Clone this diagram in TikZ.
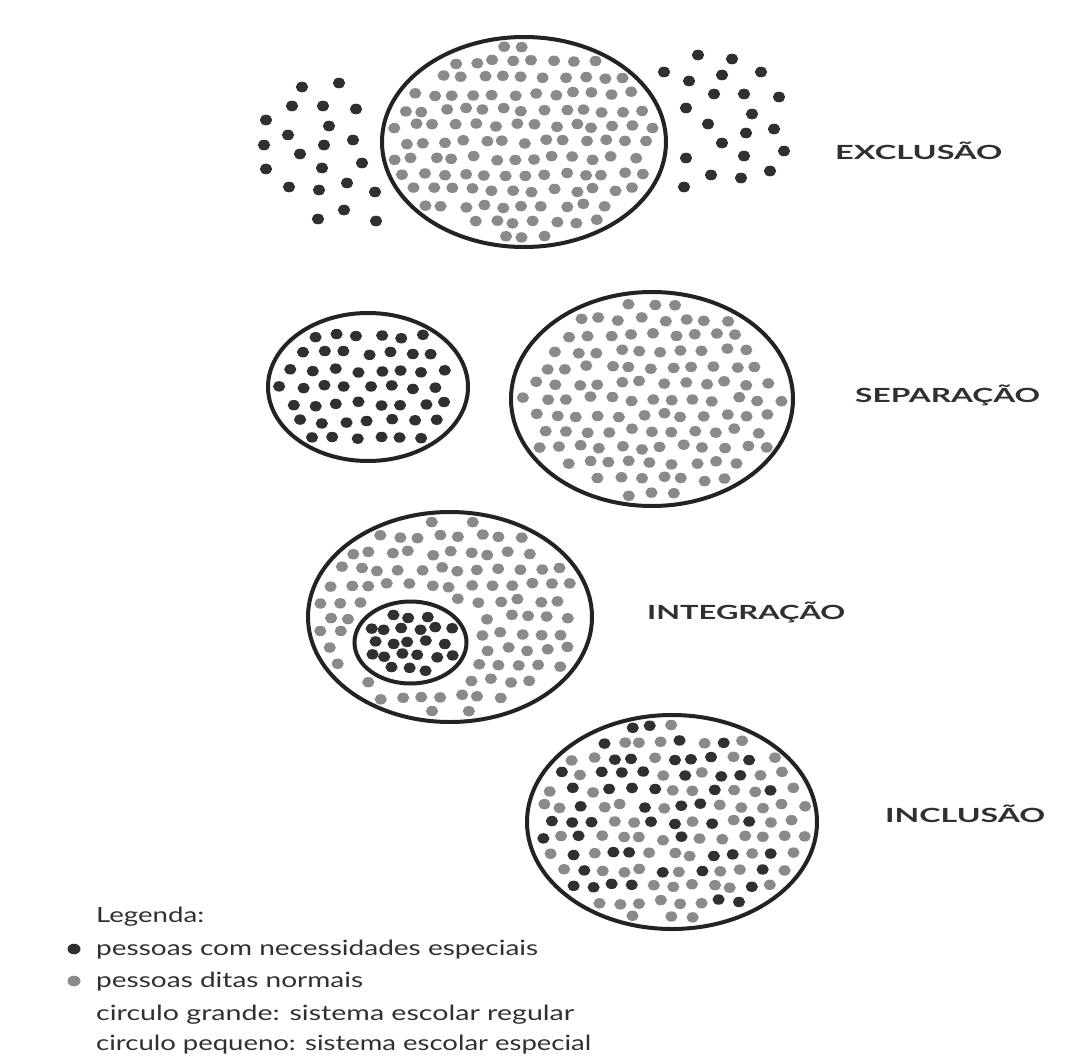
\documentclass[tikz,border=0pt]{standalone}
\usepackage{fontspec}
\setmainfont{Lato}
\usetikzlibrary{positioning}

\definecolor{inkdark}{HTML}{303030}
\definecolor{inkgray}{HTML}{8A8A8A}
\definecolor{rimcol}{HTML}{232323}

% width of a label fixed, height kept
\newcommand\stretchto[2]{\resizebox{#1}{\height}{#2}}
% no hole by default
\newcommand\holeexpr{0}
% dots in an ellipse: cx, cy, rx, ry, dx, dy, seed, style
\newcommand\crowd[8]{%
  \pgfmathsetseed{#7}%
  \foreach \i in {-9,...,9}{%
    \foreach \j in {-8,...,8}{%
      \pgfmathsetmacro\px{(\i+0.5*mod(abs(\j),2))*#5+3.5*rand}%
      \pgfmathsetmacro\py{\j*#6+2.5*rand}%
      \pgfmathtruncatemacro\ins{((\px/(#3-9))^2+(\py/(#4-8.5))^2<1) && !(\holeexpr)}%
      \ifnum\ins=1 \fill[#8] (#1+\px,#2+\py) circle[x radius=6.1, y radius=5.2];\fi
    }%
  }%
}

\begin{document}
\begin{tikzpicture}[x=1pt, y=-1pt,
    rim/.style={draw=rimcol, line width=4pt},
    pdark/.style={fill=inkdark},
    pgray/.style={fill=inkgray},
    pmix/.code={\pgfmathtruncatemacro\dk{rnd<0.42}\ifnum\dk=1 \pgfkeysalso{fill=inkdark}\else\pgfkeysalso{fill=inkgray}\fi},
    tag/.style={font=\fontsize{19.5}{20}\selectfont\bfseries, text=inkdark, inner sep=0pt, anchor=base west},
    legend/.style={font=\fontsize{21}{22}\selectfont, text=inkdark, inner sep=0pt, anchor=base west},
  ]
  \useasboundingbox (0,0) rectangle (1074,1057);
  \fill[white] (0,0) rectangle (1074,1057);

  % Exclusao
  \crowd{524}{142}{142}{105}{20}{16}{11}{pgray}
  \draw[rim] (524,142) ellipse [x radius=142, y radius=105];
  \foreach \x/\y in {302/87, 339/83, 292/106, 323/106, 356/109, 266/120, 329/126,
      288/135, 353/140, 264/145, 324/145, 300/154, 362/163, 266/169, 322/168,
      289/187, 319/190, 347/183, 375/192, 344/210, 318/219, 376/221,
      698/55, 732/59, 664/72, 689/81, 722/75, 761/72, 714/94, 744/94, 779/97,
      686/108, 752/114, 708/124, 746/133, 774/129, 722/143, 784/151, 686/158,
      744/156, 711/175, 741/178, 770/171, 684/187}
    \fill[pdark] (\x,\y) circle[x radius=6.2, y radius=5.3];
  \node[tag] (exclusao) at (835,159) {\stretchto{167pt}{EXCLUSÃO}};

  % Separacao
  \crowd{368}{387}{100}{74}{22}{17}{5}{pdark}
  \draw[rim] (368,387) ellipse [x radius=100, y radius=74];
  \crowd{652}{399}{141}{107}{21}{16}{23}{pgray}
  \draw[rim] (652,399) ellipse [x radius=141, y radius=107];
  \node[tag] (separacao) at (855,402) {\stretchto{185pt}{SEPARAÇÃO}};

  % Integracao
  \renewcommand\holeexpr{((\px+39.5)/66)^2+((\py-25.5)/50)^2<1}
  \crowd{450}{617}{142}{105}{20}{16}{7}{pgray}
  \renewcommand\holeexpr{0}
  \draw[rim] (450,617) ellipse [x radius=142, y radius=105];
  \crowd{410.5}{642.5}{56}{41}{16}{13}{3}{pdark}
  \draw[rim] (410.5,642.5) ellipse [x radius=56, y radius=41];
  \node[tag] (integracao) at (647,619) {\stretchto{198pt}{INTEGRAÇÃO}};

  % Inclusao
  \crowd{672}{822}{145}{107}{20}{16}{19}{pmix}
  \draw[rim] (672,822) ellipse [x radius=145, y radius=107];
  \node[tag] (inclusao) at (885,822) {\stretchto{160pt}{INCLUSÃO}};

  % Legend
  \node[legend] (legenda) at (96,922) {\stretchto{108pt}{Legenda:}};
  \fill[pdark] (74,949) circle[x radius=6.5, y radius=5.3];
  \node[legend] (especiais) at (96,955) {\stretchto{442pt}{pessoas com necessidades especiais}};
  \fill[pgray] (74,981) circle[x radius=6.5, y radius=5.3];
  \node[legend] (normais) at (96,987) {\stretchto{267pt}{pessoas ditas normais}};
  \node[legend] (grande) at (96,1020) {\stretchto{478pt}{circulo grande: sistema escolar regular}};
  \node[legend] (pequeno) at (96,1050) {\stretchto{495pt}{circulo pequeno: sistema escolar especial}};
\end{tikzpicture}
\end{document}
